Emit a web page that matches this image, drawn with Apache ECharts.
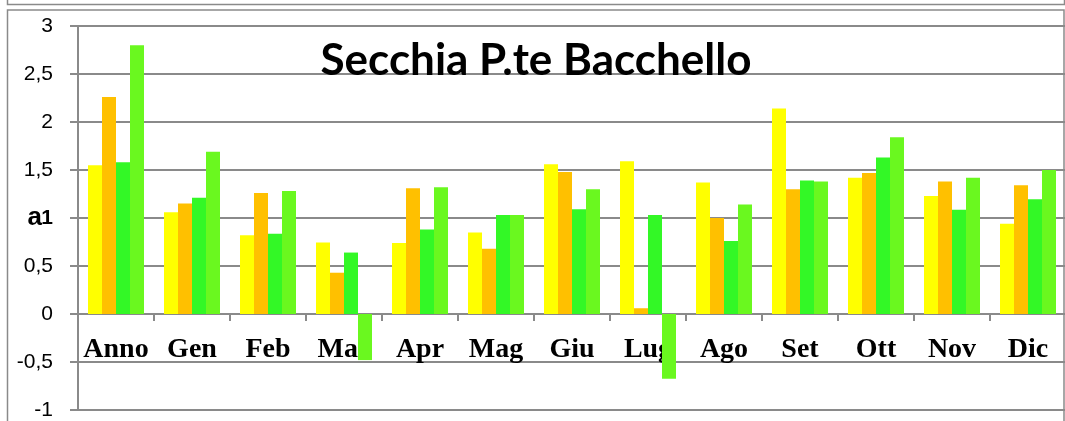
<!DOCTYPE html>
<html>
<head>
<meta charset="utf-8">
<script src="https://cdn.jsdelivr.net/npm/echarts@6/dist/echarts.min.js"></script>
<style>
  html, body { margin: 0; padding: 0; background: #fff; }
  #chart { width: 1065px; height: 421px; }
</style>
</head>
<body>
<div id="chart"></div>
<script>
// Categories (year + months) and four series of values
const categories = ['Anno', 'Gen', 'Feb', 'Mar', 'Apr', 'Mag', 'Giu', 'Lug', 'Ago', 'Set', 'Ott', 'Nov', 'Dic'];
const serie1 = [1.55, 1.06, 0.82, 0.745, 0.74, 0.85, 1.56, 1.59, 1.37, 2.14, 1.42, 1.23, 0.94];
const serie2 = [2.26, 1.15, 1.26, 0.43, 1.31, 0.68, 1.48, 0.06, 1.00, 1.30, 1.47, 1.38, 1.34];
const serie3 = [1.58, 1.21, 0.835, 0.64, 0.88, 1.03, 1.09, 1.03, 0.76, 1.39, 1.63, 1.085, 1.195];
const serie4 = [2.80, 1.69, 1.28, -0.48, 1.32, 1.03, 1.30, -0.675, 1.14, 1.38, 1.84, 1.42, 1.50];
const seriesColors = ['#FFFF00', '#FFC000', '#33F826', '#6AF81F'];
const titleText = 'Secchia P.te Bacchello';
const yAxisName = 'a';

const chart = echarts.init(document.getElementById('chart'), null, { renderer: 'canvas' });

const gray = '#8a8a8a';
const plotTop = 26, plotHeight = 384, yMin = -1, yMax = 3;
// distance from the bottom of the plot up to the zero line
const zeroOffset = plotHeight * (0 - yMin) / (yMax - yMin);

function barSeries(data, color) {
  return {
    type: 'bar',
    data: data,
    barWidth: 14,
    barGap: '0%',
    itemStyle: { color: color },
    emphasis: { disabled: true }
  };
}

const option = {
  animation: false,
  backgroundColor: '#ffffff',
  grid: { left: 78, top: plotTop, width: 988, height: plotHeight, containLabel: false, outerBoundsMode: 'none' },
  xAxis: {
    type: 'category',
    data: categories,
    position: 'bottom',
    offset: -zeroOffset,
    axisLine: { onZero: false, lineStyle: { color: gray, width: 2 } },
    axisTick: { show: true, length: 7, lineStyle: { color: gray, width: 2 } },
    axisLabel: {
      interval: 0,
      hideOverlap: false,
      margin: 22,
      color: '#000',
      fontFamily: 'Liberation Serif',
      fontWeight: 'bold',
      fontSize: 28
    },
    splitLine: { show: false }
  },
  yAxis: {
    type: 'value',
    min: yMin,
    max: yMax,
    interval: 0.5,
    name: yAxisName,
    nameLocation: 'middle',
    nameRotate: 0,
    nameGap: 36,
    nameMoveOverlap: false,
    nameTextStyle: {
      color: '#000',
      fontFamily: 'Liberation Sans',
      fontWeight: 'bold',
      fontSize: 26
    },
    axisLine: { show: true, lineStyle: { color: gray, width: 2 } },
    axisTick: { show: true, length: 8, lineStyle: { color: gray, width: 2 } },
    axisLabel: {
      margin: 25,
      color: '#000',
      fontFamily: 'Liberation Sans',
      fontSize: 21,
      formatter: function (v) {
        const s = String(v).replace('.', ',');
        return v === 1 ? '{b|' + s + '}' : s;
      },
      rich: {
        b: { fontFamily: 'Liberation Sans', fontSize: 21, fontWeight: 'bold', color: '#000' }
      }
    },
    splitLine: { show: true, lineStyle: { color: gray, width: 2 } }
  },
  series: [
    barSeries(serie1, seriesColors[0]),
    barSeries(serie2, seriesColors[1]),
    barSeries(serie3, seriesColors[2]),
    barSeries(serie4, seriesColors[3])
  ],
  graphic: [
    // outer frames
    { type: 'rect', z: -10, silent: true, shape: { x: 7.5, y: -10, width: 1057, height: 14.5 },
      style: { fill: null, stroke: gray, lineWidth: 1.5 } },
    { type: 'rect', z: -10, silent: true, shape: { x: 7.5, y: 10, width: 1056.5, height: 420 },
      style: { fill: null, stroke: gray, lineWidth: 1.5 } },
    // chart title
    { type: 'text', z: 100, silent: true, x: 536, y: 61,
      style: { text: titleText, fill: '#000', font: 'bold 44px Lato', textAlign: 'center', textVerticalAlign: 'middle' } }
  ]
};

chart.setOption(option);
</script>
</body>
</html>
